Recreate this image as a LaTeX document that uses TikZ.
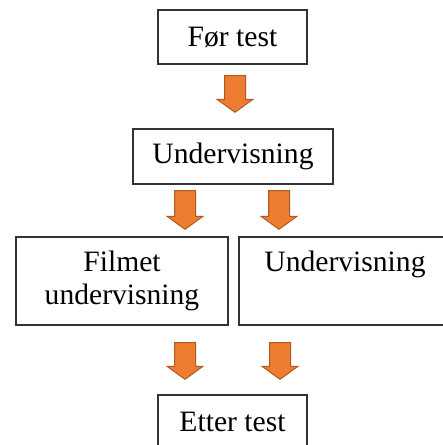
\documentclass[tikz,border=0pt]{standalone}
\usepackage{fontspec}
\setmainfont{Liberation Serif}
\usetikzlibrary{calc}
\definecolor{arrowfill}{HTML}{ED7D31}
\definecolor{arrowline}{HTML}{AE5A21}
\newcommand{\px}{0.5pt}

\begin{document}
\begin{tikzpicture}[box/.style={draw=black!80, line width=1.4*\px, rectangle, align=center, inner sep=0pt, font=\fontsize{14.8}{16.5}\selectfont},
    smallbox/.style={box, minimum width=149*\px, minimum height=54*\px},
    bigbox/.style={box, minimum width=212*\px, minimum height=88*\px},
    blockarrow/.style={fill=arrowfill, draw=arrowline, line width=1*\px, line join=miter,
        to path={($(\tikztostart)+(-10.5*\px,0)$) -- ($(\tikztotarget)+(-10.5*\px,13*\px)$) -- ($(\tikztotarget)+(-18*\px,13*\px)$) -- (\tikztotarget) -- ($(\tikztotarget)+(18*\px,13*\px)$) -- ($(\tikztotarget)+(10.5*\px,13*\px)$) -- ($(\tikztostart)+(10.5*\px,0)$) -- cycle}}]
    \useasboundingbox (0,0) rectangle (443*\px,-445*\px);
    \clip (0,0) rectangle (443*\px,-445*\px);

    % Boxes
    \node[smallbox] (pretest) at (232.5*\px,-37*\px) {Før test};
    \node[box, minimum width=200*\px, minimum height=55*\px] (teach) at (233*\px,-156.5*\px) {Undervisning};
    \node[bigbox] (filmed) at (122*\px,-281*\px) {Filmet\\undervisning};
    \node[bigbox] (normal) at (345*\px,-281*\px) {Undervisning\\\phantom{undervisning}};
    \node[smallbox] (posttest) at (232.5*\px,-422*\px) {Etter test};

    % Arrows
    \draw[blockarrow] ([xshift=2.5*\px,yshift=-11*\px]pretest.south) to ([xshift=2*\px,yshift=16*\px]teach.north);
    \draw[blockarrow] ([xshift=-48*\px,yshift=-6*\px]teach.south) to ([xshift=63*\px,yshift=7*\px]filmed.north);
    \draw[blockarrow] ([xshift=46*\px,yshift=-6*\px]teach.south) to ([xshift=-66*\px,yshift=7*\px]normal.north);
    \draw[blockarrow] ([xshift=63*\px,yshift=-17*\px]filmed.south) to ([xshift=-47.5*\px,yshift=15*\px]posttest.north);
    \draw[blockarrow] ([xshift=-65*\px,yshift=-17*\px]normal.south) to ([xshift=47.5*\px,yshift=15*\px]posttest.north);

\end{tikzpicture}
\end{document}
